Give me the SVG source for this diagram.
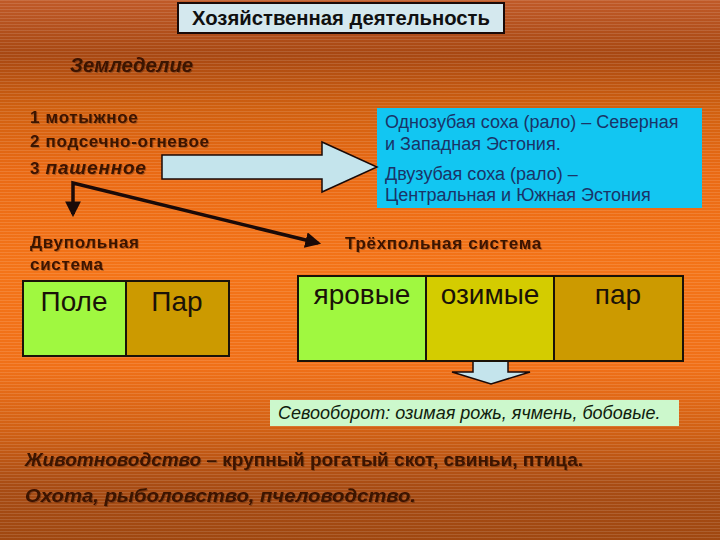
<svg xmlns="http://www.w3.org/2000/svg" width="720" height="540" viewBox="0 0 720 540">
<defs>
<linearGradient id="bg" x1="0" y1="0" x2="0" y2="1">
<stop offset="0" stop-color="#c05a28"/>
<stop offset="0.1" stop-color="#a84812"/>
<stop offset="0.2" stop-color="#d06010"/>
<stop offset="0.32" stop-color="#ea6a14"/>
<stop offset="0.5" stop-color="#f47418"/>
<stop offset="0.68" stop-color="#f07018"/>
<stop offset="0.8" stop-color="#d06014"/>
<stop offset="0.9" stop-color="#a84c14"/>
<stop offset="1" stop-color="#a04810"/>
</linearGradient>
<pattern id="stripes" width="4" height="3" patternUnits="userSpaceOnUse">
<rect width="4" height="1" fill="#ffffff" opacity="0.12"/>
</pattern>
<marker id="ah" viewBox="0 0 10 10" refX="8" refY="5" markerWidth="4.5" markerHeight="4.5" orient="auto">
<path d="M0,0 L10,5 L0,10 z" fill="#1a0a08"/>
</marker>
<filter id="sh" x="-5%" y="-20%" width="110%" height="140%">
<feDropShadow dx="1" dy="1" stdDeviation="0.4" flood-color="#000" flood-opacity="0.25"/>
</filter>
</defs>
<style>
.t{font-family:"Liberation Sans",Arial,sans-serif;fill:#3a1206;font-weight:bold;font-size:17px;letter-spacing:0.7px}
.n{font-family:"Liberation Sans Narrow","Liberation Sans",Arial,sans-serif;fill:#3a1206;font-weight:bold}
.bi{font-style:italic}
.cell{stroke:#1a1208;stroke-width:2}
.big{font-family:"Liberation Sans",Arial,sans-serif;font-size:28px;fill:#1a1208;text-anchor:middle}
.blue{font-family:"Liberation Sans",Arial,sans-serif;font-size:18px;fill:#1a3468}
.conn{stroke:#1a0a08;stroke-width:3.5;fill:none}
.barrow{fill:#c4e4ec;stroke:#1a0a08;stroke-width:1.5}
</style>
<rect width="720" height="540" fill="url(#bg)"/>
<rect width="720" height="540" fill="url(#stripes)"/>

<g id="title">
<rect x="178" y="3" width="326" height="30" fill="#d4e8ee" stroke="#1a0a08" stroke-width="2"/>
<text x="192" y="25" textLength="298" lengthAdjust="spacingAndGlyphs" font-family="Liberation Sans Narrow,Liberation Sans,Arial,sans-serif" font-weight="bold" font-size="20" fill="#101010">Хозяйственная деятельность</text>
</g>

<g id="zemledelie" filter="url(#sh)">
<text class="n bi" x="70" y="72" font-size="20" textLength="123" lengthAdjust="spacingAndGlyphs">Земледелие</text>
</g>

<g id="types" filter="url(#sh)">
<text class="t" x="30" y="123">1 мотыжное</text>
<text class="t" x="30" y="147">2 подсечно-огневое</text>
<text class="t" x="30" y="174">3 <tspan class="bi" font-size="19" letter-spacing="0.8">пашенное</tspan></text>
</g>

<g id="sokha">
<rect x="377" y="108" width="325" height="100" fill="#12c6f2"/>
<text class="blue" x="385" y="128">Однозубая соха (рало) – Северная</text>
<text class="blue" x="385" y="150">и Западная Эстония.</text>
<text class="blue" x="385" y="180">Двузубая соха (рало) –</text>
<text class="blue" x="385" y="201">Центральная и Южная Эстония</text>
</g>

<g id="connectors">
<path class="barrow" d="M162,155 L322,155 L322,142 L377,167 L322,192 L322,179 L162,179 z"/>
<polyline class="conn" points="73,214 73,183 318,243" marker-end="url(#ah)"/>
<path d="M73,213 L73,214" class="conn" marker-end="url(#ah)"/>
<path class="barrow" d="M473,345 L508,345 L508,372 L530,372 L491,384 L452,372 L473,372 z"/>
</g>

<g id="dvupolnaya-label" filter="url(#sh)">
<text class="t" x="30" y="248">Двупольная</text>
<text class="t" x="30" y="270">система</text>
</g>

<g id="trehpolnaya-label" filter="url(#sh)">
<text class="t" x="345" y="249">Трёхпольная система</text>
</g>

<g id="dvupolnaya">
<rect class="cell" x="23" y="281" width="103" height="75" fill="#a0f840"/>
<rect class="cell" x="126" y="281" width="103" height="75" fill="#cc9a00"/>
<text class="big" x="74" y="311">Поле</text>
<text class="big" x="177" y="311">Пар</text>
</g>

<g id="trehpolnaya">
<rect class="cell" x="298" y="276" width="128" height="85" fill="#a0f840"/>
<rect class="cell" x="426" y="276" width="128" height="85" fill="#d4cc00"/>
<rect class="cell" x="554" y="276" width="129" height="85" fill="#cc9a00"/>
<text class="big" x="362" y="304">яровые</text>
<text class="big" x="490" y="304">озимые</text>
<text class="big" x="618" y="304">пар</text>
</g>

<g id="sevooborot">
<rect x="270" y="400" width="409" height="26" fill="#ccf8cc"/>
<text x="278" y="419" font-family="Liberation Sans,Arial,sans-serif" font-style="italic" font-size="18" fill="#10200c">Севооборот: озимая рожь, ячмень, бобовые.</text>
</g>

<g id="zhivotnovodstvo" filter="url(#sh)">
<text class="n" x="25" y="466" font-size="19" textLength="558" lengthAdjust="spacingAndGlyphs"><tspan class="bi">Животноводство –</tspan> крупный рогатый скот, свиньи, птица.</text>
</g>

<g id="okhota" filter="url(#sh)">
<text class="n bi" x="25" y="502" font-size="19" textLength="391" lengthAdjust="spacingAndGlyphs">Охота, рыболовство, пчеловодство.</text>
</g>
</svg>
